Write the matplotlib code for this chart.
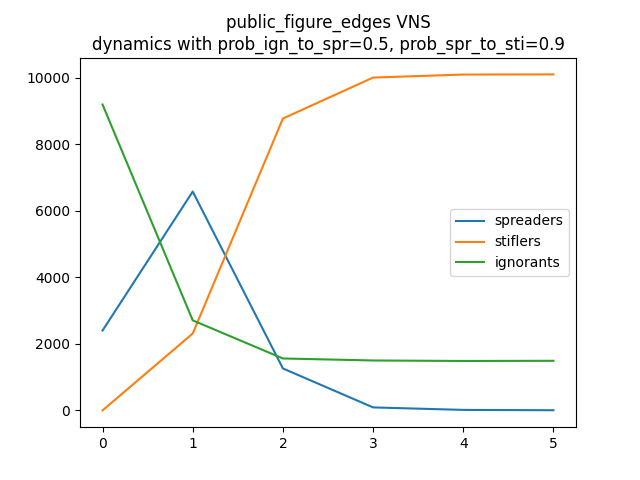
import matplotlib
matplotlib.use("Agg")
import matplotlib.pyplot as plt

steps = [0, 1, 2, 3, 4, 5]
spreaders = [2400, 6575, 1260, 90, 15, 5]
stiflers = [0, 2310, 8770, 10000, 10090, 10095]
ignorants = [9190, 2705, 1560, 1500, 1485, 1490]

fig, ax = plt.subplots(figsize=(6.4, 4.8), dpi=100)
ax.plot(steps, spreaders, label="spreaders")
ax.plot(steps, stiflers, label="stiflers")
ax.plot(steps, ignorants, label="ignorants")
ax.set_title("public_figure_edges VNS\ndynamics with prob_ign_to_spr=0.5, prob_spr_to_sti=0.9")
ax.legend(loc="center right")
fig.savefig("out.png")
